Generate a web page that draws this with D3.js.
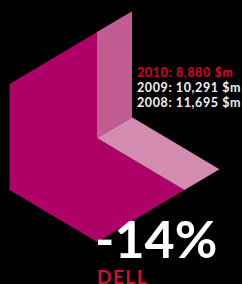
<!DOCTYPE html>
<html>
<head>
<meta charset="utf-8">
<script src="https://cdn.jsdelivr.net/npm/d3@7"></script>
<style>
  html, body { margin: 0; padding: 0; background: #000; }
  svg { display: block; }
</style>
</head>
<body>
<svg id="chart"></svg>
<script>
const years = ['2010', '2009', '2008'];
const revenue = [8880, 10291, 11695];
const company = 'DELL';

const width = 242;
const height = 284;

const svg = d3.select('#chart').attr('width', width).attr('height', height);
svg.append('rect').attr('width', width).attr('height', height).attr('fill', '#000');

// isometric cube, unit coords -> px
const cx = 97, cy = 138;
const sx = d3.scaleLinear().domain([0, 1]).range([0, 87.5]);
const sy = d3.scaleLinear().domain([0, 1]).range([0, 52]);
const sz = d3.scaleLinear().domain([0, 1]).range([0, 106]);
// x -> lower-left, y -> lower-right, z -> up
const iso = (x, y, z) => [cx - sx(x) + sx(y), cy + sy(x) + sy(y) - sz(z)];
const poly = d3.line().curve(d3.curveLinearClosed);

const cut = 0.4;

// cube body with the top-right block missing
let body = [
  iso(0, 0, 0), iso(0, 0, 1), iso(1, 0, 1), iso(1, 0, 0),
  iso(1, 1, 0), iso(0, 1, 0)
];
svg.append('path').attr('d', poly(body)).attr('fill', '#ae0066');

// inner wall
let wall = [iso(0, 0, 0), iso(0, 0, 1), iso(-cut, 0, 1), iso(-cut, 0, 0)];
svg.append('path').attr('d', poly(wall)).attr('fill', '#c25d93');

// inner floor
let floor = [iso(0, 0, 0), iso(-cut, 0, 0), iso(-cut, 1, 0), iso(0, 1, 0)];
svg.append('path').attr('d', poly(floor)).attr('fill', '#d38bb0');

// legend of values
const fmt = d3.format(',');
svg.selectAll('.val')
  .data(years)
  .enter()
  .append('text')
  .attr('class', 'val')
  .attr('x', 137)
  .attr('y', (d, i) => 77 + i * 15)
  .attr('font-family', 'Lato, sans-serif')
  .attr('font-size', 12.5)
  .attr('font-weight', 700)
  .attr('letter-spacing', 0.6)
  .attr('fill', (d, i) => i === 0 ? '#d8002e' : '#f2f2f2')
  .text((d, i) => `${d}: ${fmt(revenue[i])} $m`);

const change = Math.round((revenue[0] - revenue[1]) / revenue[1] * 100);
svg.append('text')
  .attr('x', 95)
  .attr('y', 258)
  .attr('font-family', 'Lato, sans-serif')
  .attr('font-size', 52)
  .attr('font-weight', 700)
  .attr('letter-spacing', 0)
  .attr('fill', '#fff')
  .text(`${change}%`);

svg.append('text')
  .attr('x', 97)
  .attr('y', 284)
  .attr('font-family', 'Lato, sans-serif')
  .attr('font-size', 19)
  .attr('font-weight', 700)
  .attr('letter-spacing', 1.5)
  .attr('fill', '#d0102c')
  .text(company);
</script>
</body>
</html>
